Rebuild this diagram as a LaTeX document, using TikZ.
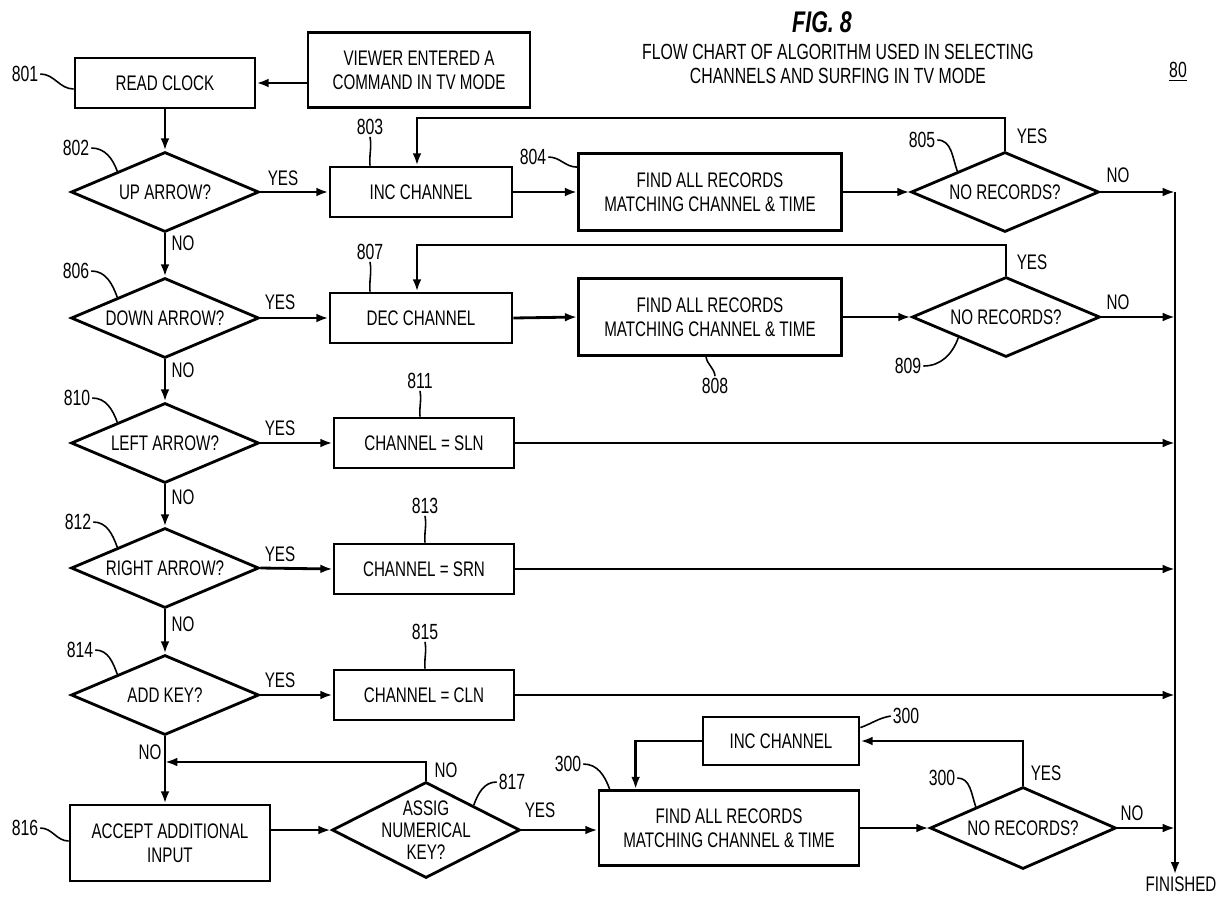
\documentclass[tikz,border=0pt]{standalone}
\usepackage{fontspec}
\setmainfont{Liberation Sans}[FakeStretch=0.72]
\usetikzlibrary{shapes.geometric,arrows.meta,calc}

\begin{document}
\begin{tikzpicture}[
  x=0.02cm, y=-0.02cm,
  pbox/.style={rectangle, draw, line width=1.6pt, inner sep=2pt, align=center, font=\fontsize{12}{13.5}\selectfont},
  pdia/.style={diamond, draw, line width=1.6pt, inner sep=0pt, aspect=2.3, minimum width=3.76cm, minimum height=1.6cm, align=center, font=\fontsize{12}{13.5}\selectfont},
  ref/.style={font=\fontsize{12.5}{14}\selectfont, inner sep=1pt},
  yn/.style={font=\fontsize{12}{13}\selectfont, inner sep=1pt},
  flow/.style={line width=1.6pt, -{Latex[length=7pt,width=5pt]}},
  lead/.style={line width=0.9pt}
]
  \useasboundingbox (0,0) rectangle (1222,896);

  % Titel
  \node[font=\fontsize{17}{19}\selectfont\bfseries\itshape, inner sep=1pt] (fig) at (822,22) {FIG.\ 8};
  \node[font=\fontsize{12.5}{13.5}\selectfont, align=center, inner sep=1pt] (title) at (838,64) {FLOW CHART OF ALGORITHM USED IN SELECTING\\CHANNELS AND SURFING IN TV MODE};
  \node[ref] (fignum) at (1178,72) {\underline{80}};

  % Start
  \node[pbox, minimum width=3.6cm, minimum height=1cm] (readclock) at (165,83) {READ CLOCK};
  \node[pbox, minimum width=4.44cm, minimum height=1.5cm] (viewer) at (419,70) {VIEWER ENTERED A\\COMMAND IN TV MODE};
  \draw[flow] (readclock.east -| viewer.west) -- (readclock.east);
  \node[ref] (l801) at (25,74) {801};
  \draw[lead] (l801.east) to[out=0,in=180] ($(readclock.west)+(0,6)$);

  % Radek UP ARROW
  \node[pdia] (d802) at (165,192) {UP ARROW?};
  \node[pbox, minimum width=3.64cm, minimum height=1cm] (inc) at (421,192) {INC CHANNEL};
  \node[pbox, minimum width=5.26cm, minimum height=1.54cm] (find804) at (710,192) {FIND ALL RECORDS\\MATCHING CHANNEL \& TIME};
  \node[pdia] (d805) at (1005,192) {NO RECORDS?};
  \draw[flow] (readclock.south) -- (d802.north);
  \draw[flow] (d802.east) -- (inc.west);
  \draw[flow] (inc.east) -- (find804.west);
  \draw[flow] (find804.east) -- (d805.west);
  \coordinate (fb805) at (417,118);
  \draw[flow] (d805.north) |- (fb805) -- (fb805 |- inc.north);
  \node[yn] (y802) at (283,178) {YES};
  \node[yn] (y805) at (1032,136) {YES};
  \node[yn] (n805) at (1118,175) {NO};
  \node[ref] (l802) at (76,148) {802};
  \draw[lead] (l802.east) to[out=0,in=110] (d802.north west);
  \node[ref] (l803) at (370,127) {803};
  \draw[lead] (l803.south) to[out=-80,in=95] (l803.south |- inc.north);
  \node[ref] (l804) at (533,157) {804};
  \draw[lead] (l804.east) to[out=0,in=180] ($(find804.north west)+(0,15)$);
  \node[ref] (l805) at (922,140) {805};
  \draw[lead] (l805.east) to[out=0,in=110] (d805.north west);

  % Radek DOWN ARROW
  \node[pdia] (d806) at (165,318) {DOWN ARROW?};
  \node[pbox, minimum width=3.64cm, minimum height=1cm] (dec) at (421,318) {DEC CHANNEL};
  \node[pbox, minimum width=5.26cm, minimum height=1.54cm] (find808) at (710,317) {FIND ALL RECORDS\\MATCHING CHANNEL \& TIME};
  \node[pdia] (d809) at (1006,317) {NO RECORDS?};
  \draw[flow] (d802.south) -- (d806.north);
  \draw[flow] (d806.east) -- (dec.west);
  \draw[flow] (dec.east) -- (find808.west);
  \draw[flow] (find808.east) -- (d809.west);
  \coordinate (fb809) at (417,245);
  \draw[flow] (d809.north) |- (fb809) -- (fb809 |- dec.north);
  \node[yn] (n802) at (183,243) {NO};
  \node[yn] (y806) at (280,302) {YES};
  \node[yn] (y809) at (1032,262) {YES};
  \node[yn] (n809) at (1118,302) {NO};
  \node[ref] (l806) at (76,271) {806};
  \draw[lead] (l806.east) to[out=0,in=110] (d806.north west);
  \node[ref] (l807) at (370,252) {807};
  \draw[lead] (l807.south) to[out=-80,in=95] (l807.south |- dec.north);
  \node[ref] (l808) at (715,386) {808};
  \draw[lead] (l808.north) to[out=95,in=-80] ($(find808.south)+(-4,0)$);
  \node[ref] (l809) at (908,366) {809};
  \draw[lead] (l809.east) to[out=0,in=-110] (d809.south west);

  % Radek LEFT ARROW
  \node[pdia] (d810) at (165,443) {LEFT ARROW?};
  \node[pbox, minimum width=3.6cm, minimum height=1cm] (sln) at (424,443) {CHANNEL = SLN};
  \draw[flow] (d806.south) -- (d810.north);
  \draw[flow] (d810.east) -- (sln.west);
  \node[yn] (n806) at (183,370) {NO};
  \node[yn] (y810) at (280,428) {YES};
  \node[ref] (l810) at (77,398) {810};
  \draw[lead] (l810.east) to[out=0,in=110] (d810.north west);
  \node[ref] (l811) at (420,381) {811};
  \draw[lead] (l811.south) to[out=-80,in=95] (l811.south |- sln.north);

  % Radek RIGHT ARROW
  \node[pdia] (d812) at (165,568) {RIGHT ARROW?};
  \node[pbox, minimum width=3.6cm, minimum height=1cm] (srn) at (424,569) {CHANNEL = SRN};
  \draw[flow] (d810.south) -- (d812.north);
  \draw[flow] (d812.east) -- (srn.west);
  \node[yn] (n810) at (183,497) {NO};
  \node[yn] (y812) at (280,554) {YES};
  \node[ref] (l812) at (78,522) {812};
  \draw[lead] (l812.east) to[out=0,in=110] (d812.north west);
  \node[ref] (l813) at (425,506) {813};
  \draw[lead] (l813.south) to[out=-80,in=95] (l813.south |- srn.north);

  % Radek ADD KEY
  \node[pdia] (d814) at (165,695) {ADD KEY?};
  \node[pbox, minimum width=3.6cm, minimum height=1cm] (cln) at (424,695) {CHANNEL = CLN};
  \draw[flow] (d812.south) -- (d814.north);
  \draw[flow] (d814.east) -- (cln.west);
  \node[yn] (n812) at (183,624) {NO};
  \node[yn] (y814) at (280,680) {YES};
  \node[ref] (l814) at (80,650) {814};
  \draw[lead] (l814.east) to[out=0,in=110] (d814.north west);
  \node[ref] (l815) at (425,632) {815};
  \draw[lead] (l815.south) to[out=-80,in=95] (l815.south |- cln.north);

  % Ciselna klavesa
  \node[pbox, minimum width=4cm, minimum height=1.52cm] (accept) at (170,843) {ACCEPT ADDITIONAL\\INPUT};
  \node[pdia, minimum height=1.92cm,
        label={[align=center, font=\fontsize{12}{12.5}\selectfont]center:ASSIG\\NUMERICAL\\KEY?}] (d817) at (426,830) {};
  \node[pbox, minimum width=5.2cm, minimum height=1.5cm] (find300) at (729,828) {FIND ALL RECORDS\\MATCHING CHANNEL \& TIME};
  \node[pbox, minimum width=3.12cm, minimum height=0.96cm] (inc300) at (781,741) {INC CHANNEL};
  \node[pdia, minimum height=1.64cm, minimum width=3.72cm] (d300) at (1023,828) {NO RECORDS?};
  \draw[flow] (d814.south) -- (d814.south |- accept.north);
  \draw[flow] (d817.west -| accept.east) -- (d817.west);
  \coordinate (j817) at (165,762);
  \draw[flow] (d817.north) |- (j817);
  \draw[flow] (d817.east) -- (d817.east -| find300.west);
  \draw[flow] (find300.east |- d300.west) -- (d300.west);
  \draw[flow] (d300.north) |- (inc300.east);
  \draw[flow] (inc300.west) -| ($(find300.north west)+(38,0)$);
  \node[yn] (n814) at (150,752) {NO};
  \node[yn] (n817) at (446,770) {NO};
  \node[yn] (y817) at (540,810) {YES};
  \node[yn] (y300) at (1046,773) {YES};
  \node[yn] (n300) at (1132,813) {NO};
  \node[ref] (l816) at (25,828) {816};
  \draw[lead] (l816.east) to[out=0,in=180] ($(accept.west)+(0,-2)$);
  \node[ref] (l817) at (512,782) {817};
  \draw[lead] (l817.west) to[out=180,in=70] (d817.north east);
  \node[ref] (l300a) at (906,716) {300};
  \draw[lead] (l300a.west) to[out=190,in=20] ($(inc300.north east)+(0,12)$);
  \node[ref] (l300b) at (568,764) {300};
  \draw[lead] (l300b.east) to[out=0,in=110] ($(find300.north west)+(12,0)$);
  \node[ref] (l300c) at (942,778) {300};
  \draw[lead] (l300c.east) to[out=0,in=110] (d300.north west);

  % Sberna cara
  \coordinate (bus) at (1175,192);
  \node[yn] (finished) at (1181,884) {FINISHED};
  \draw[flow] (bus) -- (bus |- finished.north);
  \draw[flow] (d805.east) -- (d805.east -| bus);
  \draw[flow] (d809.east) -- (d809.east -| bus);
  \draw[flow] (sln.east) -- (sln.east -| bus);
  \draw[flow] (srn.east) -- (srn.east -| bus);
  \draw[flow] (cln.east) -- (cln.east -| bus);
  \draw[flow] (d300.east) -- (d300.east -| bus);
\end{tikzpicture}
\end{document}
